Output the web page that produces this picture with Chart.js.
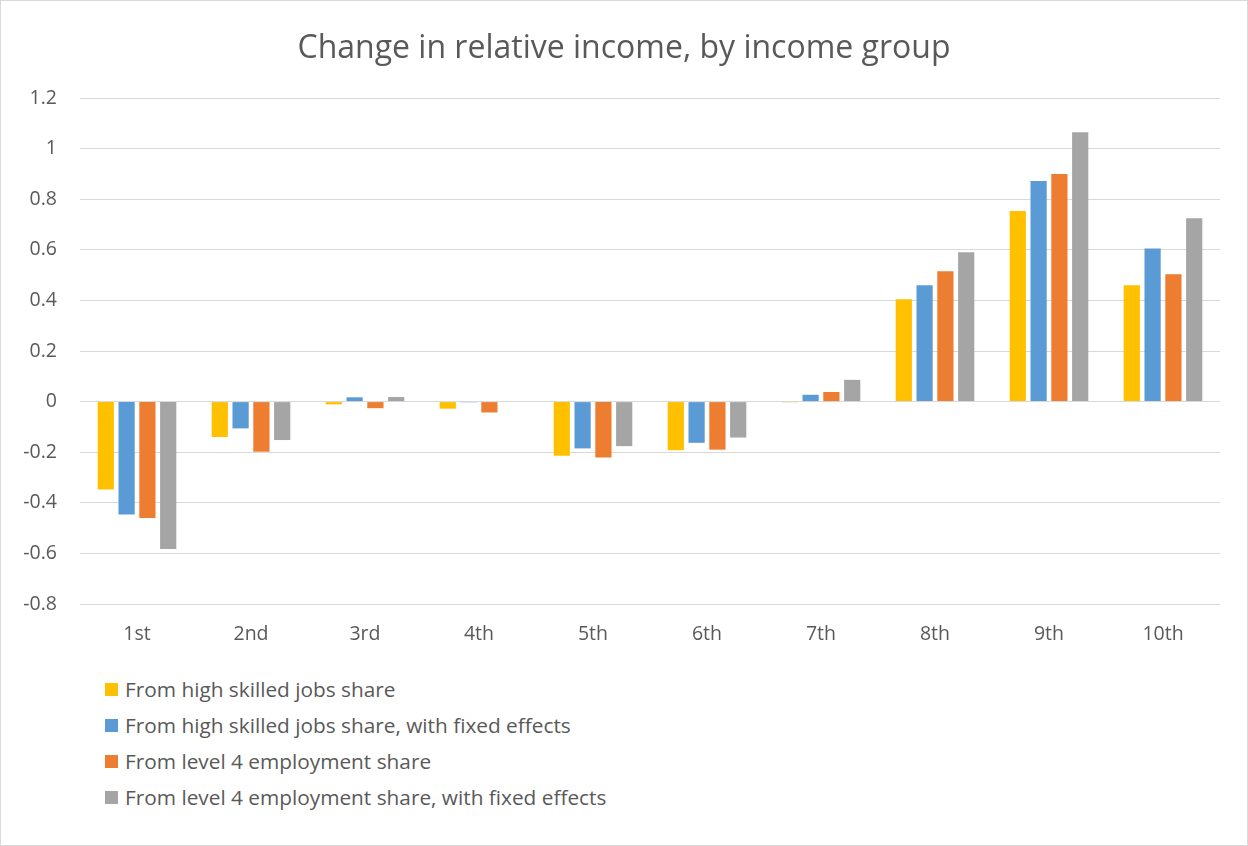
<!DOCTYPE html>
<html>
<head>
<meta charset="utf-8">
<script src="https://cdn.jsdelivr.net/npm/chart.js@4"></script>
<style>
  html, body { margin: 0; padding: 0; background: #fff; }
  #wrap { position: relative; width: 1246px; height: 844px; border: 1px solid #d9d9d9; background: #fff; overflow: hidden; }
  #cv { position: absolute; left: -1px; top: -1px; }
  #title { position: absolute; left: 0; top: 26px; width: 1246px; text-align: center; font-family: "Open Sans", sans-serif; font-size: 32px; line-height: 38px; color: #595959; white-space: nowrap; }
  #legend { position: absolute; left: 104px; top: 670px; font-family: "Open Sans", sans-serif; font-size: 20.8px; color: #595959; }
  .item { height: 36px; display: flex; align-items: center; }
  .sw { width: 13px; height: 13px; margin-right: 7px; }
</style>
</head>
<body>
<div id="wrap">
  <canvas id="cv" width="1248" height="660"></canvas>
  <div id="title"></div>
  <div id="legend"></div>
</div>
<script>
const chartTitle = "Change in relative income, by income group";
const categories = ["1st", "2nd", "3rd", "4th", "5th", "6th", "7th", "8th", "9th", "10th"];
const seriesNames = [
  "From high skilled jobs share",
  "From high skilled jobs share, with fixed effects",
  "From level 4 employment share",
  "From level 4 employment share, with fixed effects"
];
const highSkilled      = [-0.347, -0.140, -0.011, -0.028, -0.214, -0.192, -0.003, 0.405, 0.753, 0.460];
const highSkilledFE    = [-0.446, -0.106,  0.017, -0.003, -0.185, -0.163,  0.027, 0.460, 0.872, 0.605];
const level4           = [-0.460, -0.198, -0.026, -0.043, -0.221, -0.190,  0.038, 0.515, 0.900, 0.503];
const level4FE         = [-0.583, -0.152,  0.018, -0.002, -0.176, -0.142,  0.086, 0.590, 1.065, 0.725];
const yTicks = [-0.8, -0.6, -0.4, -0.2, 0, 0.2, 0.4, 0.6, 0.8, 1, 1.2];
const colors = ["#FFC000", "#5B9BD5", "#ED7D31", "#A5A5A5"];

const FONT = "'Open Sans', sans-serif";
const allSeries = [highSkilled, highSkilledFE, level4, level4FE];

document.getElementById("title").textContent = chartTitle;

const chart = new Chart(document.getElementById("cv"), {
  type: "bar",
  data: {
    labels: categories,
    datasets: allSeries.map((d, i) => ({
      label: seriesNames[i],
      data: d,
      backgroundColor: colors[i],
      borderWidth: 0,
      categoryPercentage: 0.73,
      barPercentage: 0.78
    }))
  },
  options: {
    responsive: false,
    animation: false,
    layout: { padding: { left: 0, right: 28, top: 98, bottom: 0 } },
    plugins: {
      legend: { display: false },
      tooltip: { enabled: false },
      title: { display: false }
    },
    scales: {
      x: {
        grid: { display: false, drawTicks: false },
        border: { display: false },
        ticks: { color: "#595959", font: { family: FONT, size: 19.5 }, padding: 19 },
        afterFit: (s) => { s.height = 56; }
      },
      y: {
        min: -0.8,
        max: 1.2,
        afterBuildTicks: (s) => { s.ticks = yTicks.map(v => ({ value: v })); },
        grid: { color: "#d9d9d9", drawTicks: false, lineWidth: 1 },
        border: { display: false },
        ticks: {
          color: "#595959",
          font: { family: FONT, size: 19.5 },
          padding: 23,
          callback: (v) => String(Math.round(v * 10) / 10)
        },
        afterFit: (s) => { s.width = 80; }
      }
    }
  }
});

const lg = document.getElementById("legend");
seriesNames.forEach((n, i) => {
  const it = document.createElement("div");
  it.className = "item";
  const sw = document.createElement("span");
  sw.className = "sw";
  sw.style.background = colors[i];
  const tx = document.createElement("span");
  tx.textContent = n;
  it.appendChild(sw); it.appendChild(tx);
  lg.appendChild(it);
});
</script>
</body>
</html>
